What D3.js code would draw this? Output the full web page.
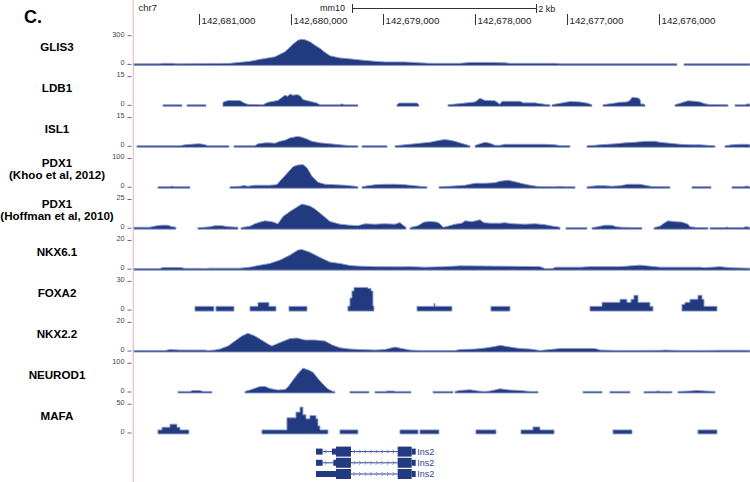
<!DOCTYPE html>
<html><head><meta charset="utf-8">
<script src="https://cdn.jsdelivr.net/npm/d3@7/dist/d3.min.js"></script>
<style>body{margin:0;background:#fff}svg{display:block}</style>
</head><body>
<svg id="c" width="750" height="482"></svg>
<script>
// ---------- DATA (positions in kb offset from chr7:142,675,000) ----------
const panelLabel = "C.";
const chromName = "chr7";
const assembly = "mm10";
const viewKb = [6.712, 0.014];
const posTicks = [6, 5, 4, 3, 2, 1];
const posTickLabels = ["142,681,000","142,680,000","142,679,000","142,678,000","142,677,000","142,676,000"];
const scaleBarKb = [4.339, 2.339];
const scaleBarLabel = "2 kb";

const trackNames = [["GLIS3"],["LDB1"],["ISL1"],["PDX1","(Khoo et al, 2012)"],["PDX1","(Hoffman et al, 2010)"],["NKX6.1"],["FOXA2"],["NKX2.2"],["NEUROD1"],["MAFA"]];
const trackMax = [300, 15, 15, 100, 25, 20, 30, 20, 100, 50];

const glis3 = [
 [[6.713,5],[6.430,5],[6.397,11],[6.288,11],[6.256,5],[5.669,11],[5.451,32],[5.342,53],[5.179,79],[5.071,132],[5.016,179],[4.984,211],[4.929,253],[4.886,263],[4.853,258],[4.799,237],[4.744,200],[4.690,168],[4.636,126],[4.581,90],[4.473,68],[4.418,63],[4.255,47],[4.092,32],[3.983,26],[3.766,26],[3.603,16],[3.494,11],[3.168,11],[3.059,21],[2.841,21],[2.678,16],[2.624,11],[2.135,11],[2.080,5],[0.808,3]],
 [[0.732,3],[0.014,3]]
];
const ldb1 = [
 [[6.397,0.26],[6.191,0.26]],
 [[6.136,0.26],[5.930,0.26]],
 [[5.745,1.6],[5.690,2.5],[5.560,2.5],[5.506,1.05],[5.473,0.53],[5.310,0.26],[5.255,1.6],[5.147,2.6],[5.071,5.3],[5.038,4.7],[5.016,5.9],[4.984,5.3],[4.940,5.6],[4.907,5.1],[4.875,3.0],[4.799,2.1],[4.723,1.2],[4.690,0.26],[4.473,0.26],[4.451,0.8],[4.429,0.26],[4.277,0.26]],
 [[3.853,0.26],[3.831,1.2],[3.635,1.2],[3.614,0.26]],
 [[3.298,0.26],[3.189,0.79],[3.092,1.3],[3.004,1.8],[2.950,3.7],[2.896,2.6],[2.787,2.4],[2.733,0.53],[2.711,2.1],[2.515,2.1],[2.483,1.3],[2.352,1.3],[2.243,0.53],[2.189,0.26]],
 [[2.167,0.26],[2.080,1.05],[1.971,2.0],[1.863,1.8],[1.776,1.05],[1.732,0.26]],
 [[1.613,0.26],[1.537,0.79],[1.428,1.6],[1.352,1.8],[1.319,2.6],[1.297,4.2],[1.232,3.9],[1.210,3.2],[1.199,0.53],[1.178,0.79],[1.156,0.26]],
 [[0.830,0.26],[0.775,1.05],[0.688,2.4],[0.612,2.1],[0.558,1.8],[0.503,0.79],[0.449,0.42],[0.253,0.26]],
 [[0.177,0.26],[0.069,0.26],[0.036,0.79],[0.014,0.53]]
];
const isl1 = [
 [[6.680,0.26],[6.212,0.26],[6.158,0.79],[6.049,1.2],[5.995,1.3],[5.940,0.79],[5.908,0.26],[5.680,0.26]],
 [[5.625,0.26],[5.397,0.26],[5.364,1.3],[5.288,1.8],[5.234,1.8],[5.179,1.6],[5.125,2.6],[5.071,3.2],[5.016,4.4],[4.940,5.1],[4.907,5.0],[4.853,4.2],[4.777,2.6],[4.690,1.8],[4.581,1.3],[4.527,1.05],[4.473,0.79],[4.364,0.26],[4.277,0.26]],
 [[4.233,0.26],[3.961,0.26]],
 [[3.874,0.26],[3.820,0.53],[3.711,1.05],[3.603,1.6],[3.494,2.1],[3.385,3.2],[3.331,3.5],[3.276,3.2],[3.222,2.6],[3.168,1.8],[3.113,1.05],[3.081,0.53],[3.059,0.26]],
 [[3.004,0.42],[2.950,1.3],[2.896,2.1],[2.841,1.6],[2.787,0.53],[2.733,0.53],[2.678,1.05],[2.602,1.05],[2.406,1.05],[2.243,1.05],[2.135,0.79],[2.080,0.37],[1.971,0.26]],
 [[1.787,0.26],[1.700,0.53],[1.645,0.79],[1.482,1.3],[1.373,1.8],[1.265,2.1],[1.156,2.6],[1.047,2.6],[0.993,2.1],[0.884,1.6],[0.775,1.05],[0.667,0.79],[0.558,0.79],[0.449,0.42],[0.395,0.26]],
 [[0.286,0.26],[0.210,0.79],[0.123,1.05],[0.036,1.05],[0.014,0.79]]
];
const pdx1Khoo = [
 [[6.452,1.8],[6.321,1.8],[6.299,4.2],[6.267,1.8],[6.104,1.8]],
 [[5.669,1.8],[5.560,3.5],[5.516,6],[5.473,3.5],[5.397,7],[5.234,7],[5.168,8.8],[5.147,12.3],[5.125,22],[5.049,48],[4.984,71.3],[4.940,77],[4.875,79],[4.831,67.7],[4.777,38.6],[4.712,17.5],[4.636,10.5],[4.527,8.8],[4.418,7],[4.309,3.5],[4.277,1.8]],
 [[4.233,1.8],[4.168,5.3],[4.092,8.8],[3.983,10.5],[3.874,10.5],[3.766,8.8],[3.657,5.3],[3.581,2.8],[3.526,1.8]],
 [[3.396,1.8],[3.276,3.5],[3.113,7],[3.004,14],[2.896,14],[2.787,15.8],[2.733,21],[2.646,24.6],[2.570,19.3],[2.483,12.3],[2.406,7],[2.319,2.5],[2.135,1.8],[2.080,3.5],[2.026,1.8],[1.917,1.8]],
 [[1.787,1.8],[1.678,5.3],[1.591,5.3],[1.515,3.5],[1.428,5.3],[1.341,10.5],[1.210,10.5],[1.156,7],[1.080,2.8],[0.884,1.8]],
 [[0.645,1.8],[0.438,1.8]],
 [[0.210,1.8],[0.079,1.8],[0.058,4.2],[0.014,2.8]]
];
const pdx1Hoffman = [
 [[6.713,0.88],[6.539,0.88],[6.462,2.2],[6.408,2.6],[6.343,2.6],[6.299,1.3],[6.256,0.88]],
 [[6.017,0.44],[5.940,0.88],[5.886,1.3],[5.832,2.2],[5.756,2.2],[5.690,1.3],[5.582,0.88]],
 [[5.549,0.44],[5.451,1.75],[5.397,3.9],[5.342,5.3],[5.288,6.4],[5.212,5.7],[5.147,3.8],[5.092,10.2],[5.016,14.6],[4.929,19],[4.886,21],[4.842,20.2],[4.799,19.3],[4.744,16.7],[4.668,11.7],[4.581,5.9],[4.473,3.5],[4.364,2.6],[4.277,2.2],[4.201,3.8],[4.092,3.5],[3.983,3.9],[3.874,3.5],[3.820,4.9],[3.787,2.6],[3.755,0.88]],
 [[3.711,0.44],[3.624,2.2],[3.559,5.3],[3.494,5.9],[3.418,5.3],[3.385,3.9],[3.352,0.88],[3.298,1.75],[3.222,3.5],[3.146,4.4],[3.113,6.4],[3.037,5.7],[2.950,7.3],[2.907,4.8],[2.841,4.4],[2.733,4.4],[2.678,4.8],[2.602,3.9],[2.461,3.5],[2.352,3.9],[2.243,3.1],[2.156,1.75],[2.080,0.88]],
 [[2.015,0.44],[1.787,0.44]],
 [[1.732,0.44],[1.667,1.3],[1.591,2.6],[1.515,2.6],[1.471,1.3],[1.406,0.88],[1.265,0.6],[1.189,0.44]],
 [[1.058,0.44],[0.993,1.75],[0.949,4.4],[0.906,6.4],[0.830,5.7],[0.754,5.3],[0.688,3.5],[0.667,1.3],[0.590,0.6],[0.471,0.44]],
 [[0.449,0.44],[0.286,0.44],[0.264,1.05],[0.242,0.44],[0.090,0.44],[0.058,1.3],[0.014,0.88]]
];
const nkx61 = [
 [[6.713,0.35],[6.430,0.35],[6.397,1.2],[6.212,1.2],[6.158,0.56],[5.995,0.56],[5.940,0.2],[5.886,0.7],[5.560,0.7],[5.451,1.4],[5.342,2.8],[5.234,4],[5.125,6.3],[5.016,9.8],[4.929,13.3],[4.886,13.7],[4.799,11.7],[4.690,8.2],[4.581,4.9],[4.473,4],[4.364,2.5],[4.255,2.1],[4.092,1.75],[3.820,1.6],[3.711,1.75],[3.548,1.4],[3.331,1.75],[3.168,2.3],[2.733,2.1],[2.298,1.75],[2.243,0.35],[2.167,0.35],[2.124,1.4],[1.863,1.4],[1.754,1.75],[1.428,1.75],[1.210,2.8],[1.102,2.1],[0.993,1.4],[0.558,1.4],[0.503,1.05],[0.340,1.75],[0.232,1.05],[0.014,0.7]]
];
const foxa2Blocks = [
 [6.049,5.843,3.9],[5.821,5.625,3.9],[5.451,5.364,3.9],[5.364,5.245,7.9],[5.245,5.168,3.9],[5.027,4.831,3.9],
 [4.386,4.364,4.2],[4.364,4.342,12.6],[4.342,4.320,20],[4.320,4.168,23.7],[4.168,4.135,22.6],[4.135,4.114,20],[4.114,4.103,4.2],
 [3.635,3.450,3.9],[3.450,3.439,6.8],[3.439,3.255,3.9],[2.831,2.624,3.9],
 [1.754,1.623,3.9],[1.623,1.428,8.1],[1.428,1.352,11.3],[1.352,1.308,8.1],[1.308,1.276,11.3],[1.276,1.232,15.5],[1.232,1.102,8.1],[1.102,1.069,3.9],
 [0.754,0.721,6],[0.721,0.667,8.1],[0.667,0.580,11.3],[0.580,0.536,15.5],[0.536,0.514,11.3],[0.514,0.373,3.9]
];
const nkx22 = [
 [[6.713,0.35],[6.375,0.35],[6.321,1.05],[6.212,0.7],[5.940,0.7],[5.908,0.14],[5.832,0.7],[5.777,1.4],[5.690,3.5],[5.614,7],[5.538,10.5],[5.473,12.4],[5.397,10.5],[5.321,7.5],[5.255,4.9],[5.212,3.5],[5.125,5.9],[5.016,8.7],[4.940,9.1],[4.853,7.7],[4.744,7.7],[4.636,7],[4.549,4],[4.473,2.3],[4.364,1.4],[4.255,1.05],[4.092,0.7],[3.983,1.05],[3.929,1.9],[3.874,2.8],[3.798,1.75],[3.711,0.7],[3.603,0.14],[3.548,0.2],[3.494,0.35],[3.222,0.35],[3.168,1.05],[3.004,1.4],[2.896,2.1],[2.787,3.2],[2.733,4],[2.624,2.8],[2.515,1.75],[2.406,1.4],[2.298,0.35],[2.189,1.05],[2.080,1.75],[1.700,1.75],[1.645,0.7],[1.428,0.35],[0.993,0.5],[0.938,0.7],[0.775,0.35],[0.558,0.35],[0.340,0.56],[0.014,0.56]]
];
const neurod1 = [
 [[6.234,1],[6.104,1],[6.071,5.3],[5.995,5.3],[5.962,1],[5.864,1]],
 [[5.506,1.8],[5.451,7],[5.397,13],[5.342,19],[5.288,19.3],[5.234,12.3],[5.147,7],[5.071,8.8],[5.038,17.5],[4.994,36.5],[4.940,59.7],[4.875,83.2],[4.820,77.2],[4.766,69],[4.712,47],[4.657,27],[4.603,10.5],[4.549,1.8],[4.527,1]],
 [[4.364,1],[4.157,1]],
 [[4.092,1],[3.983,1],[3.951,3.5],[3.896,3.5],[3.864,1],[3.700,1]],
 [[3.461,1],[3.244,1]],
 [[3.222,1],[3.168,5.3],[3.059,8],[2.972,3.5],[2.896,1],[2.841,3.5],[2.787,7],[2.733,11.6],[2.678,8.8],[2.624,7],[2.515,5.3],[2.406,1.8],[2.319,1]],
 [[1.830,1],[1.623,1]],
 [[1.537,1],[1.319,1]],
 [[1.167,1],[1.047,1],[1.015,3.5],[0.982,1],[0.862,1]],
 [[0.797,1],[0.667,3.5],[0.590,5.3],[0.503,3.5],[0.395,1]]
];
const mafaBlocks = [
 [6.452,6.408,5.3],[6.408,6.321,10],[6.321,6.245,15.3],[6.245,6.212,10],[6.212,6.115,5.3],
 [5.321,5.049,5.3],[5.049,4.951,26.3],[4.951,4.907,36.3],[4.907,4.875,45],[4.875,4.842,31.6],[4.842,4.799,24.6],[4.799,4.733,30.3],[4.733,4.712,24.6],[4.712,4.690,12.3],[4.690,4.603,5.3],
 [4.473,4.277,5.3],[3.820,3.624,5.3],[3.603,3.396,5.3],[2.994,2.776,5.3],[2.504,2.374,5.3],[2.374,2.298,10.5],[2.298,2.145,5.3],[1.504,1.297,5.3],[0.580,0.373,5.3]
];

const geneName = "Ins2";
const transcripts = [
 [[4.733,4.661,"utr"],[4.560,4.516,"utr"],[4.516,4.353,"cds"],[3.845,3.693,"cds"],[3.693,3.649,"utr"]],
 [[4.733,4.661,"utr"],[4.545,4.516,"utr"],[4.516,4.353,"cds"],[3.845,3.693,"cds"],[3.693,3.649,"utr"]],
 [[4.733,4.516,"utr"],[4.516,4.353,"cds"],[3.845,3.693,"cds"],[3.693,3.649,"utr"]]
];

// ---------- DRAWING ----------
const DARK = "#223a80", LIGHT = "#8e9bcb";
const svg = d3.select("#c");
svg.append("rect").attr("width",750).attr("height",482).attr("fill","#fff");

const x = d3.scaleLinear().domain(viewKb).range([134, 750]);

function blocksToSegments(blocks){
  const segs = []; let cur = null;
  blocks.forEach(b => {
    if (cur && Math.abs(cur.last - b[0]) < 0.0015) { cur.pts.push([b[0], b[2]], [b[1], b[2]]); }
    else { cur = {pts: [[b[0], b[2]], [b[1], b[2]]]}; segs.push(cur); }
    cur.last = b[1];
  });
  return segs.map(s => s.pts);
}

const trackData = [glis3, ldb1, isl1, pdx1Khoo, pdx1Hoffman, nkx61, blocksToSegments(foxa2Blocks), nkx22, neurod1, blocksToSegments(mafaBlocks)];

// pink guide line
svg.append("rect").attr("x",132.6).attr("y",0).attr("width",1.4).attr("height",482).attr("fill","#f6c3cb");

// panel label
svg.append("text").attr("x",24).attr("y",23).attr("font-family","Liberation Sans, Arial, sans-serif")
  .attr("font-weight","bold").attr("font-size",18).attr("fill","#000").text(panelLabel);

// header
const hdrFont = "Liberation Sans, Arial, sans-serif";
svg.append("text").attr("x",138.5).attr("y",11).attr("font-family",hdrFont).attr("font-size",9.5).attr("fill","#222").text(chromName);
svg.append("text").attr("x",345).attr("y",11).attr("text-anchor","end").attr("font-family",hdrFont).attr("font-size",9).attr("fill","#222").text(assembly);
const sb0 = x(scaleBarKb[0]), sb1 = x(scaleBarKb[1]);
const hdr = svg.append("g").attr("stroke","#333").attr("stroke-width",1).attr("shape-rendering","crispEdges");
hdr.append("line").attr("x1",sb0).attr("x2",sb1).attr("y1",8.5).attr("y2",8.5);
hdr.append("line").attr("x1",sb0).attr("x2",sb0).attr("y1",4).attr("y2",13);
hdr.append("line").attr("x1",sb1).attr("x2",sb1).attr("y1",4).attr("y2",13);
svg.append("text").attr("x",sb1+2).attr("y",11.5).attr("font-family",hdrFont).attr("font-size",9).attr("fill","#222").text(scaleBarLabel);
posTicks.forEach((k,i) => {
  const px = Math.round(x(k)) + 0.5;
  hdr.append("line").attr("x1",px).attr("x2",px).attr("y1",13.5).attr("y2",24.5);
  svg.append("text").attr("x",px+2).attr("y",23.5).attr("font-family",hdrFont).attr("font-size",9.7).attr("fill","#222").text(posTickLabels[i]);
});

// tracks
const TRACK0 = 64.4, TRACK_STEP = 40.95, TRACK_H = 28.7;
trackNames.forEach((names, i) => {
  const zero = TRACK0 + TRACK_STEP * i;
  const y = d3.scaleLinear().domain([0, trackMax[i]]).range([zero, zero - TRACK_H]);
  const g = svg.append("g");
  // label
  const lines = names.length;
  names.forEach((t, j) => {
    const by = lines === 1 ? zero - 13.3 : zero - 20 + j * 12;
    g.append("text").attr("x",57).attr("y",by).attr("text-anchor","middle")
      .attr("font-family","Liberation Sans, Arial, sans-serif").attr("font-weight","bold")
      .attr("font-size",11.6).attr("fill","#000").text(t);
  });
  // y ticks
  [trackMax[i], 0].forEach(v => {
    const ty = y(v);
    g.append("text").attr("x",124.5).attr("y",ty+0.8).attr("text-anchor","end")
      .attr("font-family","Liberation Sans, Arial, sans-serif").attr("font-size",7.3).attr("fill","#444").text(v);
    g.append("rect").attr("x",127.5).attr("y",ty-0.5).attr("width",4).attr("height",1).attr("fill","#5568a8");
  });
  // signal
  const area = d3.area()
    .x(d => x(d[0]))
    .y0(zero + 1)
    .y1(d => Math.min(zero - 0.6, y(d[1])));
  trackData[i].forEach(seg => {
    g.append("path").attr("d", area(seg)).attr("fill", DARK)
      .attr("stroke", LIGHT).attr("stroke-width", 0.9).attr("stroke-linejoin","round");
  });
});

// gene models
const GENE_Y0 = 451.6, GENE_STEP = 11.2;
const gg = svg.append("g");
transcripts.forEach((exons, r) => {
  const cy = GENE_Y0 + GENE_STEP * r;
  const xs = exons.map(e => [x(e[0]), x(e[1])]);
  // introns
  for (let j = 0; j < xs.length - 1; j++) {
    const a = xs[j][1], b = xs[j+1][0];
    if (b - a < 0.5) continue;
    gg.append("line").attr("x1",a).attr("x2",b).attr("y1",cy).attr("y2",cy)
      .attr("stroke","#2f4590").attr("stroke-width",1);
    for (let cx = a + 4; cx < b - 2; cx += 5.6) {
      gg.append("path").attr("d",`M${cx-1.5},${cy-2}L${cx+0.5},${cy}L${cx-1.5},${cy+2}`)
        .attr("fill","none").attr("stroke","#7887c2").attr("stroke-width",0.9);
    }
  }
  exons.forEach((e, j) => {
    const h = e[2] === "cds" ? 10 : 6;
    gg.append("rect").attr("x",xs[j][0]).attr("y",cy - h/2).attr("width",xs[j][1]-xs[j][0]).attr("height",h)
      .attr("fill",DARK);
  });
  gg.append("text").attr("x", xs[xs.length-1][1] + 1.5).attr("y", cy + 3.3)
    .attr("font-family","Liberation Sans, Arial, sans-serif").attr("font-size",9).attr("fill","#2f4590").text(geneName);
});
</script>
</body></html>
